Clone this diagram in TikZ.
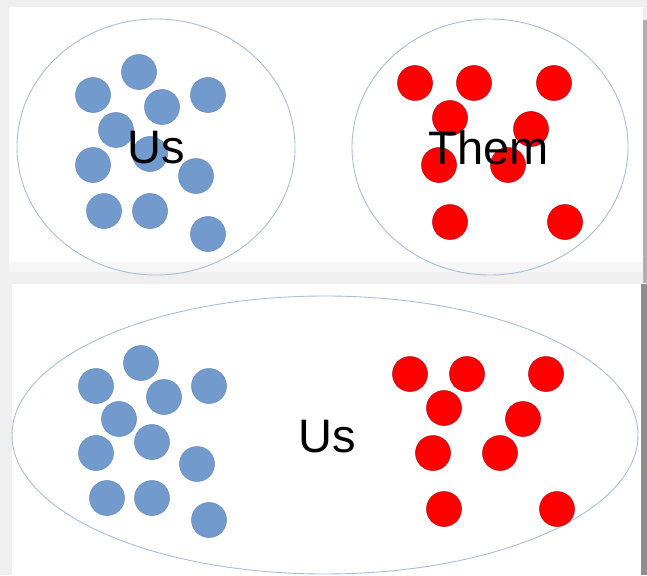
\documentclass[tikz,border=0pt]{standalone}
\usepackage{fontspec}
\setmainfont{Liberation Sans}
\definecolor{bgray}{HTML}{EFEFEF}
\definecolor{stripgray}{HTML}{F6F6F6}
\definecolor{edgegray}{HTML}{8E8E8E}
\definecolor{dotblue}{HTML}{729ACC}
\definecolor{dotblueline}{HTML}{5F87B8}
\definecolor{dotred}{HTML}{FF0000}
\definecolor{dotredline}{HTML}{B00010}
\definecolor{ringblue}{HTML}{A8BEDB}
\tikzset{
  bdot/.style={circle, minimum size=35pt, inner sep=0pt, fill=dotblue, draw=dotblueline, line width=0.5pt},
  rdot/.style={circle, minimum size=35pt, inner sep=0pt, fill=dotred, draw=dotredline, line width=0.5pt},
  ring/.style={draw=ringblue, line width=0.9pt},
  bigtext/.style={inner sep=0pt, font=\fontsize{47}{50}\selectfont, text=black}
}
\begin{document}
\begin{tikzpicture}[x=1pt,y=-1pt]
\useasboundingbox (0,0) rectangle (647,575);
% background and panels
\fill[bgray] (0,0) rectangle (647,575);
\fill[white] (9,7) rectangle (643,262);
\fill[stripgray] (9,262) rectangle (643,272);
\fill[edgegray!70] (643,20) rectangle (647,283);
\fill[white] (12,284) rectangle (641,575);
\fill[edgegray] (641,284) rectangle (647,575);

% top left group
\draw[ring] (156,147) ellipse [x radius=139, y radius=128];
\node[bdot] (t1) at (139,72) {};
\node[bdot] (t2) at (93,95) {};
\node[bdot] (t3) at (162,107) {};
\node[bdot] (t4) at (208,95) {};
\node[bdot] (t5) at (116,130) {};
\node[bdot] (t6) at (150,154) {};
\node[bdot] (t7) at (93,165) {};
\node[bdot] (t8) at (196,176) {};
\node[bdot] (t9) at (104,211) {};
\node[bdot] (t10) at (150,211) {};
\node[bdot] (t11) at (208,234) {};
\node[bigtext] (us1) at (156,148) {Us};

% top right group
\draw[ring] (490,147) ellipse [x radius=138, y radius=128];
\node[rdot] (r1) at (415,83) {};
\node[rdot] (r2) at (474,83) {};
\node[rdot] (r3) at (554,83) {};
\node[rdot] (r4) at (450,118) {};
\node[rdot] (r5) at (531,129) {};
\node[rdot] (r6) at (439,165) {};
\node[rdot] (r7) at (508,165) {};
\node[rdot] (r8) at (450,222) {};
\node[rdot] (r9) at (565,222) {};
\node[bigtext] (them) at (489,148) {Them};

% bottom group
\draw[ring] (325,435) ellipse [x radius=313, y radius=139];
\node[bdot] (b1) at (141,363) {};
\node[bdot] (b2) at (96,386) {};
\node[bdot] (b3) at (164,397) {};
\node[bdot] (b4) at (209,386) {};
\node[bdot] (b5) at (119,419) {};
\node[bdot] (b6) at (152,442) {};
\node[bdot] (b7) at (96,453) {};
\node[bdot] (b8) at (197,464) {};
\node[bdot] (b9) at (107,498) {};
\node[bdot] (b10) at (152,498) {};
\node[bdot] (b11) at (209,520) {};
\node[rdot] (s1) at (410,374) {};
\node[rdot] (s2) at (467,374) {};
\node[rdot] (s3) at (546,374) {};
\node[rdot] (s4) at (444,408) {};
\node[rdot] (s5) at (523,419) {};
\node[rdot] (s6) at (433,453) {};
\node[rdot] (s7) at (500,453) {};
\node[rdot] (s8) at (444,509) {};
\node[rdot] (s9) at (557,509) {};
\node[bigtext] (us2) at (327,437) {Us};
\end{tikzpicture}
\end{document}
